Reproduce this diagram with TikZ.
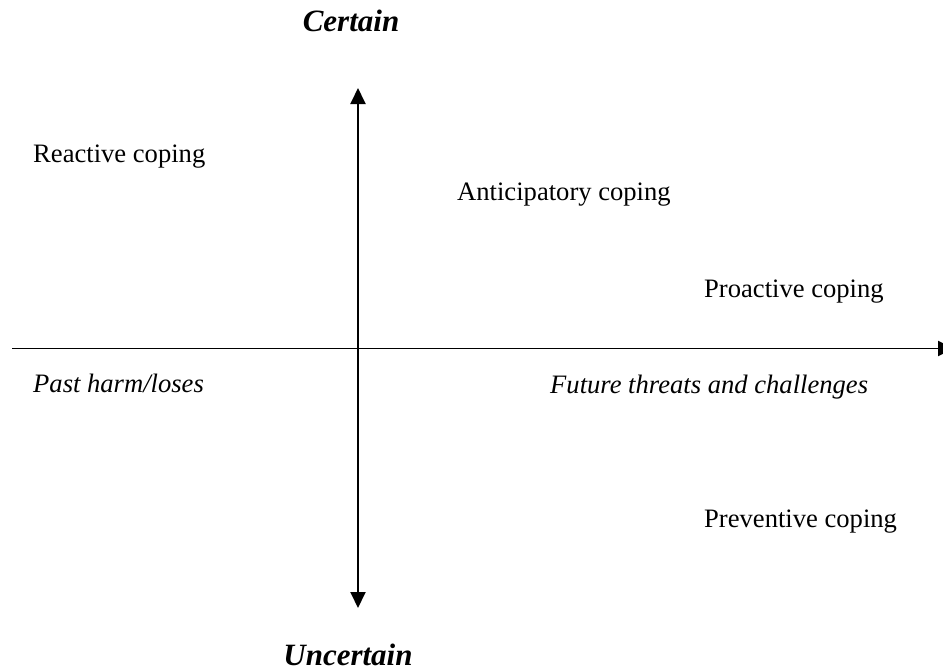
\documentclass[tikz,border=0pt]{standalone}
\usepackage{fontspec}
\setmainfont{Liberation Serif}
\usetikzlibrary{arrows.meta}
\begin{document}
\begin{tikzpicture}[x=1pt,y=-1pt,
  axis/.style={line width=1.9pt,-{Triangle[width=15pt,length=16pt]}},
  axis2/.style={line width=1.9pt,{Triangle[width=15pt,length=16pt]}-{Triangle[width=15pt,length=16pt]}},
  lbl/.style={inner sep=0pt,anchor=base west,font=\fontsize{26.6}{30}\selectfont},
  dimlbl/.style={lbl,font=\fontsize{26.6}{30}\selectfont\itshape},
  pole/.style={inner sep=0pt,anchor=base,font=\fontsize{31}{36}\selectfont\bfseries\itshape}]
  \useasboundingbox (0,0) rectangle (943,672);
  \clip (0,0) rectangle (943,672);

  % axis end points
  \coordinate (top) at (358,88);
  \coordinate (bottom) at (358,608);
  \coordinate (left) at (12,348.5);
  \coordinate (right) at (954,348.5);

  \draw[axis2] (bottom) -- (top);
  \draw[axis] (left) -- (right);

  % poles of the vertical axis
  \node[pole] (certain) at (351,31) {Certain};
  \node[pole] (uncertain) at (348,665) {Uncertain};

  % coping types
  \node[lbl] (reactive) at (33,162) {Reactive coping};
  \node[lbl] (anticip) at (457,200) {Anticipatory coping};
  \node[lbl] (proactive) at (704,297) {Proactive coping};
  \node[lbl] (preventive) at (704,527) {Preventive coping};

  % time dimension
  \node[dimlbl] (past) at (33,392) {Past harm/loses};
  \node[dimlbl] (future) at (550,393) {Future threats and challenges};
\end{tikzpicture}
\end{document}
